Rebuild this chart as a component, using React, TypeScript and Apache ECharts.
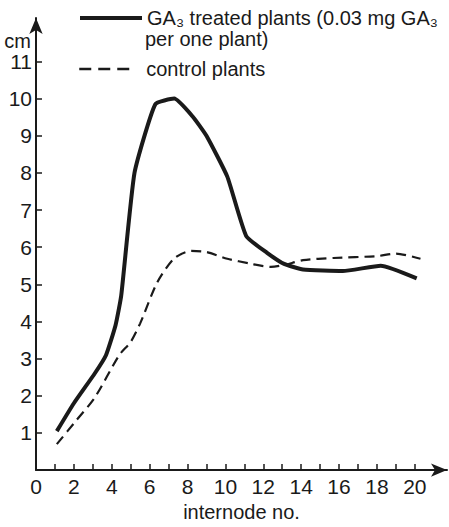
import React, { useEffect, useRef } from "react";
import * as echarts from "echarts";

const gaX = [1.1, 2.0, 3.1, 3.7, 4.2, 4.5, 5.2, 6.3, 7.3, 8.3, 9.0, 10.1, 11.1, 12.2, 13.1, 14.1, 16.2, 18.2, 20.1];
const gaY = [1.05, 1.8, 2.6, 3.1, 3.9, 4.7, 8.0, 9.85, 10.0, 9.5, 9.0, 7.9, 6.3, 5.85, 5.55, 5.4, 5.36, 5.5, 5.16];

const ctrlX = [1.1, 2.1, 3.1, 4.4, 5.0, 5.5, 6.4, 7.3, 8.2, 9.0, 10.1, 11.3, 12.4, 13.1, 14.1, 15.7, 18.0, 19.0, 20.3];
const ctrlY = [0.7, 1.32, 1.95, 3.1, 3.45, 3.95, 5.05, 5.7, 5.9, 5.87, 5.69, 5.56, 5.47, 5.52, 5.65, 5.71, 5.76, 5.83, 5.69];

const xTicks = [1, 2, 3, 4, 5, 6, 7, 8, 9, 10, 11, 12, 13, 14, 15, 16, 17, 18, 19, 20];
const xLabels = [0, 2, 4, 6, 8, 10, 12, 14, 16, 18, 20];
const yTicks = [1, 2, 3, 4, 5, 6, 7, 8, 9, 10, 11];

const seriesNames = ["GA3", "control"];
const legendTexts = ["GA₃ treated plants (0.03 mg GA₃", "control plants"];
const legendSecondLine = "per one plant)";

const FONT = "'Liberation Sans', Arial, sans-serif";
const INK = "#1a1a1a";

export default function App() {
  const ref = useRef<HTMLDivElement>(null);
  useEffect(() => {
    if (!ref.current) return;
    const chart = echarts.init(ref.current, null, { renderer: "svg" });
    const zip = (xs: number[], ys: number[]) => xs.map((x, i) => [x, ys[i]]);
    const legendBase = {
      left: 78,
      padding: 0,
      itemWidth: 62,
      itemHeight: 20,
      itemStyle: { opacity: 0 },
      textStyle: { fontSize: 20, fontFamily: FONT, color: INK },
    };
    chart.setOption({
      animation: false,
      backgroundColor: "#ffffff",
      textStyle: { fontFamily: FONT, color: INK },
      grid: { left: 36, right: 2, top: 18, bottom: 49 },
      legend: [
        {
          ...legendBase,
          data: [seriesNames[0]],
          top: 8,
          formatter: () => legendTexts[0],
          lineStyle: { color: INK, width: 4, type: "solid" },
        },
        {
          ...legendBase,
          data: [seriesNames[1]],
          top: 59,
          formatter: () => legendTexts[1],
          lineStyle: { color: INK, width: 2.5, type: [12, 7, 12, 7, 12, 14] },
        },
      ],
      graphic: [
        {
          type: "text",
          left: 145,
          top: 29,
          style: { text: legendSecondLine, fontSize: 20, fontFamily: FONT, fill: INK },
        },
      ],
      xAxis: {
        type: "value",
        min: 0,
        max: 21.7,
        name: "internode no.",
        nameLocation: "middle",
        nameGap: 28,
        nameTextStyle: { fontSize: 20, color: INK, fontFamily: FONT },
        splitLine: { show: false },
        axisLine: {
          show: true,
          lineStyle: { color: INK, width: 2 },
          symbol: ["none", "arrow"],
          symbolSize: [10, 16],
        },
        axisTick: { show: true, inside: true, length: 6, customValues: xTicks, lineStyle: { color: INK, width: 1.5 } },
        axisLabel: { customValues: xLabels, fontSize: 21, color: INK, margin: 6, fontFamily: FONT },
      },
      yAxis: {
        type: "value",
        min: 0,
        max: 12.17,
        name: "cm",
        nameLocation: "end",
        nameGap: -40,
        nameTextStyle: { fontSize: 20, color: INK, fontFamily: FONT, align: "right", verticalAlign: "bottom", padding: [0, 5, 0, 0] },
        splitLine: { show: false },
        axisLine: {
          show: true,
          lineStyle: { color: INK, width: 2 },
          symbol: ["none", "arrow"],
          symbolSize: [10, 16],
        },
        axisTick: { show: true, inside: true, length: 6, customValues: yTicks, lineStyle: { color: INK, width: 1.5 } },
        axisLabel: { customValues: yTicks, fontSize: 21, color: INK, margin: 4, fontFamily: FONT },
      },
      series: [
        {
          name: seriesNames[0],
          type: "line",
          data: zip(gaX, gaY),
          symbol: "none",
          smooth: 0.15,
          lineStyle: { color: INK, width: 4, type: "solid" },
          itemStyle: { color: INK },
        },
        {
          name: seriesNames[1],
          type: "line",
          data: zip(ctrlX, ctrlY),
          symbol: "none",
          smooth: 0.25,
          lineStyle: { color: INK, width: 2.2, type: [10, 6] },
          itemStyle: { color: INK },
        },
      ],
    });
    return () => chart.dispose();
  }, []);
  return <div ref={ref} style={{ width: 449, height: 527, position: "absolute", left: 0, top: 0 }} />;
}
